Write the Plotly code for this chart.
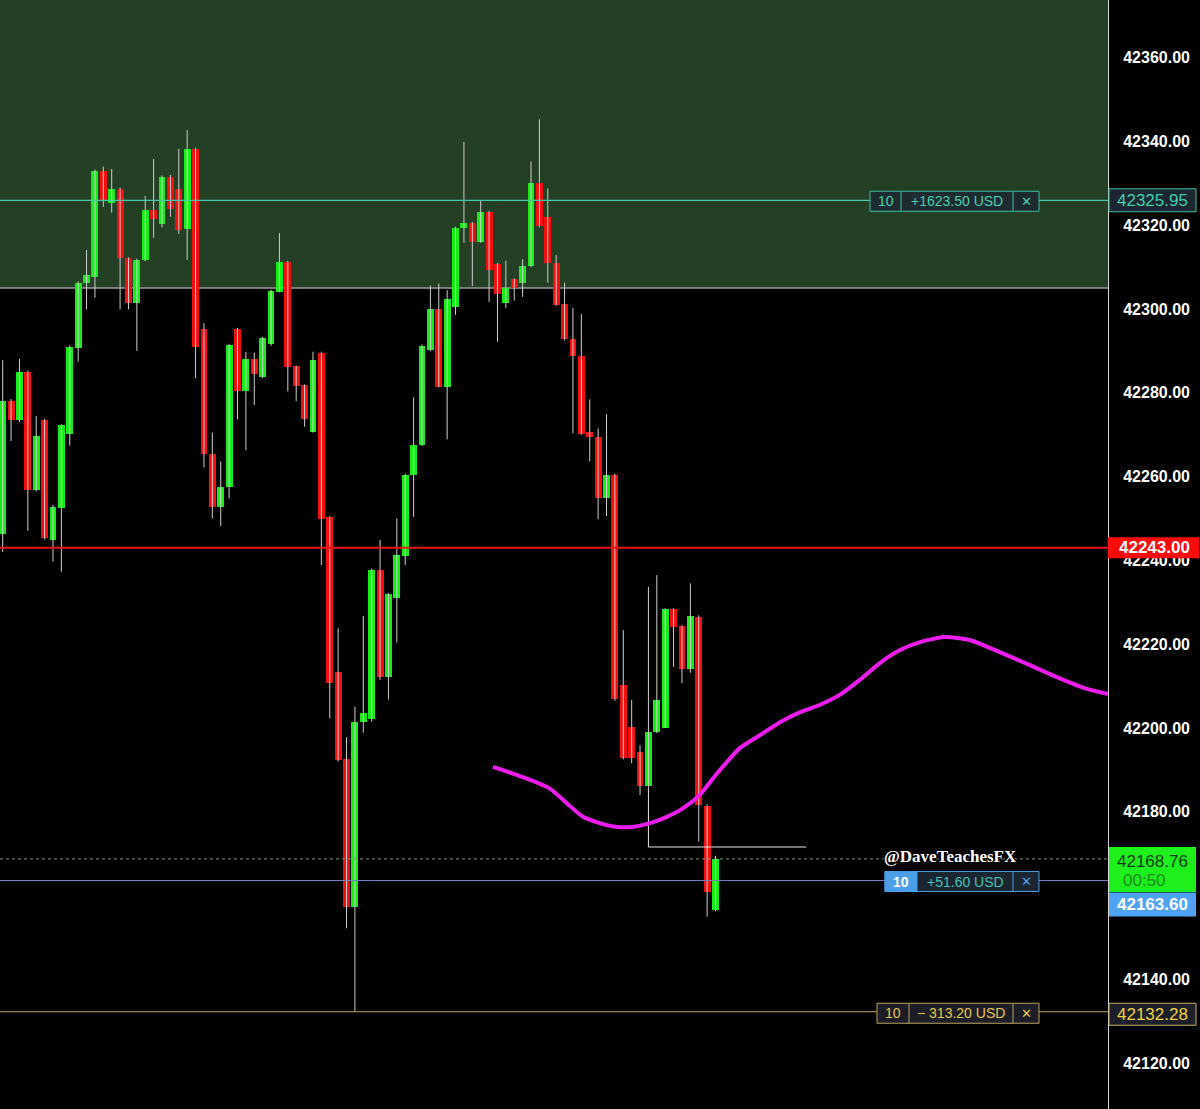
import plotly.graph_objects as go

# ---------------- data ----------------
OPEN = [42246.3, 42278.0, 42273.5, 42285.0, 42256.8, 42273.5, 42244.9, 42252.6, 42270.2, 42290.6,
        42306.2, 42307.7, 42333.0, 42325.2, 42328.6, 42312.1, 42301.5, 42311.6, 42323.6, 42320.4,
        42331.6, 42328.6, 42319.0, 42338.2, 42295.2, 42265.5, 42252.8, 42257.6, 42295.2, 42280.4,
        42288.0, 42283.8, 42291.6, 42304.1, 42311.3, 42286.3, 42281.9, 42270.7, 42289.6, 42250.4,
        42213.4, 42192.5, 42157.4, 42201.4, 42202.1, 42237.7, 42212.2, 42231.1, 42241.1, 42260.4,
        42267.5, 42290.2, 42299.9, 42281.5, 42300.6, 42319.3, 42320.5, 42316.0, 42323.1, 42310.7,
        42301.4, 42307.1, 42306.1, 42310.2, 42330.0, 42322.0, 42311.1, 42301.2, 42292.8, 42288.9,
        42270.7, 42269.5, 42254.8, 42260.4, 42210.3, 42200.3, 42194.2, 42186.2, 42199.0, 42200.1,
        42228.3, 42224.3, 42214.0, 42226.6, 42181.5, 42156.6]
HIGH = [42287.8, 42278.5, 42288.1, 42285.3, 42274.5, 42273.8, 42253.2, 42272.5, 42291.3, 42306.6,
        42314.1, 42333.3, 42334.0, 42333.4, 42329.0, 42312.3, 42312.0, 42327.0, 42335.8, 42331.9,
        42332.0, 42338.2, 42342.7, 42338.5, 42296.6, 42270.5, 42263.6, 42291.7, 42295.5, 42289.8,
        42289.6, 42293.3, 42304.6, 42318.1, 42311.5, 42286.5, 42282.0, 42289.8, 42289.8, 42250.6,
        42223.8, 42197.8, 42205.1, 42226.7, 42238.0, 42244.9, 42232.2, 42250.0, 42260.7, 42278.9,
        42291.5, 42305.6, 42306.1, 42304.5, 42319.6, 42339.9, 42320.8, 42325.9, 42323.4, 42311.0,
        42311.5, 42307.3, 42311.9, 42335.2, 42345.3, 42328.8, 42312.9, 42306.3, 42300.2, 42298.8,
        42278.4, 42271.5, 42274.9, 42260.7, 42223.4, 42206.7, 42195.9, 42233.7, 42236.5, 42228.6,
        42228.6, 42224.5, 42234.5, 42226.9, 42181.8, 42169.5]
LOW = [42242.0, 42268.5, 42273.0, 42247.1, 42256.5, 42245.0, 42239.7, 42237.3, 42267.4, 42287.4,
       42299.9, 42302.7, 42324.4, 42323.0, 42299.9, 42299.9, 42290.0, 42311.4, 42317.0, 42319.5,
       42322.0, 42317.9, 42311.7, 42283.5, 42262.2, 42250.0, 42248.2, 42254.8, 42273.7, 42266.3,
       42277.1, 42283.5, 42291.2, 42304.0, 42280.3, 42278.0, 42271.9, 42270.5, 42238.9, 42202.3,
       42192.0, 42152.2, 42132.5, 42198.9, 42201.5, 42211.5, 42206.8, 42220.4, 42238.9, 42250.4,
       42267.3, 42290.0, 42281.3, 42268.9, 42298.6, 42315.8, 42305.5, 42315.8, 42301.7, 42292.2,
       42300.2, 42302.0, 42302.9, 42310.0, 42319.5, 42306.3, 42300.8, 42292.5, 42270.3, 42270.0,
       42263.6, 42249.8, 42250.6, 42206.5, 42192.5, 42191.6, 42184.0, 42185.5, 42198.8, 42200.0,
       42214.6, 42210.7, 42213.2, 42172.9, 42155.0, 42156.3]
CLOSE = [42278.0, 42273.5, 42285.0, 42256.8, 42269.8, 42245.3, 42252.8, 42272.3, 42291.0, 42306.3,
         42308.1, 42333.0, 42326.0, 42328.6, 42312.1, 42301.5, 42311.7, 42323.6, 42321.4, 42331.6,
         42323.9, 42318.9, 42338.2, 42291.0, 42265.3, 42252.8, 42257.6, 42291.4, 42280.5, 42288.0,
         42284.5, 42293.0, 42304.3, 42311.3, 42286.2, 42281.7, 42273.7, 42287.9, 42249.8, 42210.7,
         42192.4, 42157.4, 42201.5, 42203.5, 42237.7, 42212.2, 42231.9, 42241.3, 42260.4, 42267.5,
         42291.2, 42299.9, 42281.5, 42302.5, 42319.3, 42320.5, 42316.1, 42323.1, 42309.3, 42303.7,
         42304.9, 42305.0, 42310.3, 42330.0, 42319.8, 42311.1, 42301.0, 42292.8, 42288.9, 42270.2,
         42269.5, 42254.8, 42260.4, 42206.9, 42192.8, 42192.8, 42186.2, 42199.1, 42206.8, 42228.3,
         42224.2, 42214.0, 42226.7, 42181.6, 42160.9, 42168.76]

MA_X = [58.45, 61.3, 65.2, 67.3, 69.2, 71.2, 73.2, 75.1, 77.2, 79.2, 81.1, 83.1, 85.2, 87.9, 90.3,
        92.7, 95.1, 97.4, 99.8, 102.2, 104.6, 107.0, 109.4, 112.3, 115.3, 118.9, 122.5, 126.0, 129.0, 131.8]
MA_Y = [42190.7, 42188.8, 42185.6, 42182.0, 42178.8, 42177.3, 42176.4, 42176.4, 42177.3, 42178.8,
        42180.8, 42184.0, 42189.2, 42195.2, 42198.3, 42201.4, 42203.8, 42205.5, 42207.9, 42211.5,
        42215.5, 42218.6, 42220.5, 42221.7, 42221.0, 42218.1, 42215.0, 42211.9, 42209.5, 42208.1]

SWING_X = [77, 77, 95.8]
SWING_Y = [42185.5, 42171.6, 42171.6]

# 42160.00 sits fully behind the price labels in the reference, so it is not listed
TICK_VALUES = [42120, 42140, 42180, 42200, 42220, 42240, 42260, 42280, 42300, 42320, 42340, 42360]
TICK_TEXT = ["42120.00", "42140.00", "42180.00", "42200.00", "42220.00", "42240.00",
             "42260.00", "42280.00", "42300.00", "42320.00", "42340.00", "42360.00"]

ZONE_BOTTOM = 42305.0
TP_PRICE = 42325.95
RESIST_PRICE = 42243.00
LAST_PRICE = 42168.76
ENTRY_PRICE = 42163.60
SL_PRICE = 42132.28
QTY = "10"
TP_PNL = "+1623.50 USD"
ENTRY_PNL = "+51.60 USD"
SL_PNL = "\u2212 313.20 USD"
COUNTDOWN = "00:50"
WATERMARK = "@DaveTeachesFX"

# ---------------- geometry ----------------
W, H = 1200, 1109
PLOT_W = 1108
Y_MIN, Y_MAX = 42109.07, 42373.75
X_MIN, X_MAX = -0.32, 131.8

UP = "#17ee17"
DOWN = "#f40f0f"


def xp(px):
    return px / PLOT_W


def yp(v):
    return (v - Y_MIN) / (Y_MAX - Y_MIN)


def hp(px):
    return px / H


idx = list(range(len(OPEN)))

# wicks
wx, wy = [], []
for i in idx:
    wx += [i, i, None]
    wy += [LOW[i], HIGH[i], None]

up_i = [i for i in idx if CLOSE[i] >= OPEN[i]]
dn_i = [i for i in idx if CLOSE[i] < OPEN[i]]

fig = go.Figure()
fig.add_trace(go.Scatter(x=wx, y=wy, mode="lines", line=dict(color="#cfcfcf", width=1),
                         hoverinfo="skip", connectgaps=False))
fig.add_trace(go.Bar(x=up_i, base=[min(OPEN[i], CLOSE[i]) for i in up_i],
                     y=[max(abs(CLOSE[i] - OPEN[i]), 0.25) for i in up_i],
                     width=0.82, marker=dict(color=UP, line=dict(width=0)), hoverinfo="skip"))
fig.add_trace(go.Bar(x=dn_i, base=[min(OPEN[i], CLOSE[i]) for i in dn_i],
                     y=[max(abs(CLOSE[i] - OPEN[i]), 0.25) for i in dn_i],
                     width=0.82, marker=dict(color=DOWN, line=dict(width=0)), hoverinfo="skip"))
fig.add_trace(go.Scatter(x=SWING_X, y=SWING_Y, mode="lines", line=dict(color="#e6e6e6", width=1),
                         hoverinfo="skip"))
fig.add_trace(go.Scatter(x=MA_X, y=MA_Y, mode="lines",
                         line=dict(color="#ee1cee", width=4, shape="spline", smoothing=0.6),
                         hoverinfo="skip"))

shapes = []
# zone
shapes.append(dict(type="rect", xref="paper", yref="y", x0=0, x1=1, y0=ZONE_BOTTOM, y1=Y_MAX,
                   fillcolor="#233f24", line=dict(width=0), layer="below"))
shapes.append(dict(type="line", xref="paper", yref="y", x0=0, x1=1, y0=ZONE_BOTTOM, y1=ZONE_BOTTOM,
                   line=dict(color="#9c9c9c", width=1.5), layer="below"))
# price lines
shapes.append(dict(type="line", xref="paper", yref="y", x0=0, x1=1, y0=TP_PRICE, y1=TP_PRICE,
                   line=dict(color="#45c9aa", width=1.3)))
shapes.append(dict(type="line", xref="paper", yref="y", x0=0, x1=1, y0=RESIST_PRICE, y1=RESIST_PRICE,
                   line=dict(color="#e81414", width=2)))
shapes.append(dict(type="line", xref="paper", yref="y", x0=0, x1=1, y0=LAST_PRICE, y1=LAST_PRICE,
                   line=dict(color="#7d9a7d", width=1, dash="dot")))
shapes.append(dict(type="line", xref="paper", yref="y", x0=0, x1=1, y0=ENTRY_PRICE, y1=ENTRY_PRICE,
                   line=dict(color="#7482c0", width=1.2)))
shapes.append(dict(type="line", xref="paper", yref="y", x0=0, x1=1, y0=SL_PRICE, y1=SL_PRICE,
                   line=dict(color="#bba964", width=1.2)))

annotations = []


def rect(x0, x1, yc, hpx, fill, border, bw=1, dy=0):
    shapes.append(dict(type="rect", xref="paper", yref="paper", x0=xp(x0), x1=xp(x1),
                       y0=yp(yc) - hp(hpx / 2) + hp(dy), y1=yp(yc) + hp(hpx / 2) + hp(dy),
                       fillcolor=fill, line=dict(color=border, width=bw), layer="above"))


def text(xc, yc, s, color, size=13, weight="normal", family="Liberation Sans", dy=0):
    annotations.append(dict(xref="paper", yref="paper", x=xp(xc), y=yp(yc) + hp(dy), text=s,
                            showarrow=False, xanchor="center", yanchor="middle",
                            font=dict(family=family, size=size, color=color, weight=weight)))


# order boxes on chart
def order_box(price, edges, bg, border, qty_bg, qty_col, pnl_col, x_col, dy=0):
    x0, d1, d2, x1 = edges
    rect(x0, x1, price, 20, bg, border, 1, dy)
    if qty_bg:
        rect(x0, d1, price, 20, qty_bg, border, 1, dy)
    else:
        shapes.append(dict(type="line", xref="paper", yref="paper", x0=xp(d1), x1=xp(d1),
                           y0=yp(price) - hp(10) + hp(dy), y1=yp(price) + hp(10) + hp(dy),
                           line=dict(color=border, width=1), layer="above"))
    shapes.append(dict(type="line", xref="paper", yref="paper", x0=xp(d2), x1=xp(d2),
                       y0=yp(price) - hp(10) + hp(dy), y1=yp(price) + hp(10) + hp(dy),
                       line=dict(color=border, width=1), layer="above"))
    text((x0 + d1) / 2, price, QTY, qty_col, 14, "bold" if qty_bg else "normal", dy=dy)
    text((d1 + d2) / 2, price, pnl_col[0], pnl_col[1], 14, dy=dy)
    text((d2 + x1) / 2, price, "\u2715", x_col, 13, dy=dy)


order_box(TP_PRICE, (870, 901, 1013, 1039), "#1d2a30", "#3cbfa0", None, "#46d2b2",
          (TP_PNL, "#46d2b2"), "#46d2b2", dy=-1)
order_box(ENTRY_PRICE, (885, 917, 1013, 1039), "#1b2431", "#4a9fe8", "#4a9fe8", "#ffffff",
          (ENTRY_PNL, "#3fc7b0"), "#4a9fe8", dy=-1)
order_box(SL_PRICE, (877, 909, 1013, 1039), "#1d1d27", "#bba35a", None, "#e8c84c",
          (SL_PNL, "#e8c84c"), "#e8c84c", dy=-1.5)

# axis price labels
AX0, AX1 = 1109, 1196
AXC = (AX0 + AX1) / 2
rect(AX0, AX1, TP_PRICE, 23, "#1b2630", "#3cbfa0", 1)
text(AXC, TP_PRICE, f"{TP_PRICE:.2f}", "#3fd0b0", 17)
rect(1108, 1199, RESIST_PRICE, 21, "#ff0a0a", "#ff0a0a", 0)
text(AXC + 2, RESIST_PRICE, f"{RESIST_PRICE:.2f}", "#ffffff", 17, "bold")
# last price (green) box with countdown below the price
shapes.append(dict(type="rect", xref="paper", yref="paper", x0=xp(AX0), x1=xp(AX1),
                   y0=yp(LAST_PRICE) - hp(33), y1=yp(LAST_PRICE) + hp(12),
                   fillcolor="#1ef01e", line=dict(width=0), layer="above"))
text(AXC, LAST_PRICE, f"{LAST_PRICE:.2f}", "#0f3a0f", 17, dy=-3)
text(AXC - 8, LAST_PRICE, COUNTDOWN, "#1c8c1c", 17, dy=-22)
rect(AX0, AX1, ENTRY_PRICE, 24, "#4ea3f4", "#4ea3f4", 0, dy=-24)
text(AXC, ENTRY_PRICE, f"{ENTRY_PRICE:.2f}", "#ffffff", 17, "bold", dy=-24)
rect(AX0, AX1, SL_PRICE, 22, "#1c1e2a", "#c9ae55", 1, dy=-2.5)
text(AXC, SL_PRICE, f"{SL_PRICE:.2f}", "#f2d040", 17, dy=-2.5)

# watermark
annotations.append(dict(xref="paper", yref="paper", x=xp(950), y=yp(LAST_PRICE) + hp(2), text=WATERMARK,
                        showarrow=False, xanchor="center", yanchor="middle",
                        font=dict(family="Liberation Serif", size=17, color="#ffffff", weight="bold",
                                  shadow="1px 1px 1px #000, -1px -1px 1px #000, 1px -1px 1px #000, -1px 1px 1px #000")))

fig.update_layout(
    width=W, height=H,
    margin=dict(l=0, r=W - PLOT_W, t=0, b=0),
    paper_bgcolor="#000000", plot_bgcolor="#000000",
    showlegend=False, barmode="overlay", bargap=0,
    xaxis=dict(range=[X_MIN, X_MAX], visible=False, showgrid=False, zeroline=False, fixedrange=True),
    yaxis=dict(range=[Y_MIN, Y_MAX], side="right", tickvals=TICK_VALUES, ticktext=TICK_TEXT,
               showgrid=False, zeroline=False, showline=True, linecolor="#d8d8d8", linewidth=1,
               ticks="", ticklabelstandoff=11,
               tickfont=dict(family="Liberation Sans", size=16, color="#ffffff", weight="bold")),
    shapes=shapes, annotations=annotations,
)

fig.write_html("out.html", config={"displayModeBar": False, "staticPlot": True},
               post_script="document.body.style.margin='0';document.body.style.background='#000';"
                           "document.body.style.overflow='hidden';")
